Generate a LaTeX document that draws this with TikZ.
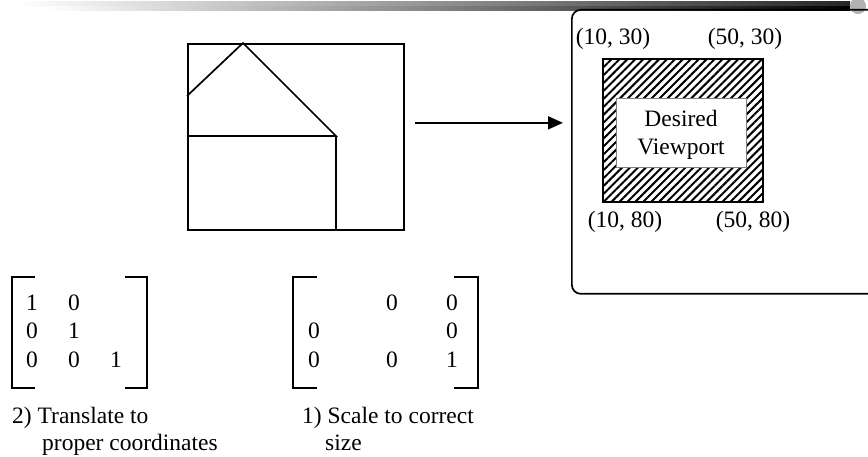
\documentclass[tikz,border=0pt]{standalone}
\usepackage{fontspec}
\setmainfont{Liberation Serif}
\usetikzlibrary{patterns.meta,arrows.meta}
\begin{document}
\begin{tikzpicture}[x=1pt,y=-1pt, font=\fontsize{23.5}{28}\selectfont,
  lbl/.style={inner sep=0pt, anchor=base},
  lblw/.style={inner sep=0pt, anchor=base west},
  heavy/.style={line width=1.7pt},
  brk/.style={line width=1.3pt},
  boxnode/.style={draw, line width=1.7pt, inner sep=0pt, anchor=north west}]
\clip (0,0) rectangle (868,457);
\fill[white] (0,0) rectangle (868,457);
% banner
\shade[left color=white, right color=black!85] (15,2) rectangle (850,7);
\shade[left color=white, right color=black] (45,7) rectangle (850,11);
\fill[gray!60] (858,6) circle (8);
% picture frame and house
\node[boxnode, minimum width=216, minimum height=186] (frame) at (187,43) {};
\draw[heavy, line join=miter] (187,96) -- (243,43) -- (336,136) -- (187,136);
\draw[heavy] (336,136) -- (336,229);
% viewport box
\node[boxnode, rounded corners=9pt, minimum width=340, minimum height=284] (vp) at (571,9) {};
\node[boxnode, pattern={Lines[angle=45,distance=5.6pt,line width=2pt]}, minimum width=160, minimum height=143] (hatch) at (602,58) {};
\node[draw=gray, fill=white, line width=0.9pt, inner sep=0pt, anchor=north west, minimum width=130, minimum height=69] (inner) at (616,98) {};
\node[lbl] (d1) at (681,127) {Desired};
\node[lbl] (d2) at (681,155) {Viewport};
\node[lbl] (c1) at (613,45) {(10, 30)};
\node[lbl] (c2) at (745,45) {(50, 30)};
\node[lbl] (c3) at (625,228) {(10, 80)};
\node[lbl] (c4) at (753,228) {(50, 80)};
% arrow
\path (frame.east) ++(10,-14) coordinate (a1);
\path (vp.west) ++(-8,-29) coordinate (a2);
\draw[heavy, -{Triangle[length=15pt,width=13pt]}] (a1) -- (a2);
% matrix 1
\draw[brk] (35,277) -- (12,277) -- (12,388) -- (35,388);
\draw[brk] (125,277) -- (147,277) -- (147,388) -- (125,388);
\node[lbl] (m11) at (32,310) {1};
\node[lbl] (m12) at (74,310) {0};
\node[lbl] (m21) at (32,338.5) {0};
\node[lbl] (m22) at (74,338.5) {1};
\node[lbl] (m31) at (32,367) {0};
\node[lbl] (m32) at (74,367) {0};
\node[lbl] (m33) at (116,367) {1};
\node[lblw] (t1) at (12,423) {2) Translate to};
\node[lblw] (t2) at (42,450) {proper coordinates};
% matrix 2
\draw[brk] (317,277) -- (293,277) -- (293,388) -- (317,388);
\draw[brk] (454,277) -- (478,277) -- (478,388) -- (454,388);
\node[lbl] (n12) at (392,310) {0};
\node[lbl] (n13) at (452,310) {0};
\node[lbl] (n21) at (314,338.5) {0};
\node[lbl] (n23) at (452,338.5) {0};
\node[lbl] (n31) at (314,367) {0};
\node[lbl] (n32) at (392,367) {0};
\node[lbl] (n33) at (452,367) {1};
\node[lblw] (s1) at (302,423) {1) Scale to correct};
\node[lblw] (s2) at (325,450) {size};
\end{tikzpicture}
\end{document}
